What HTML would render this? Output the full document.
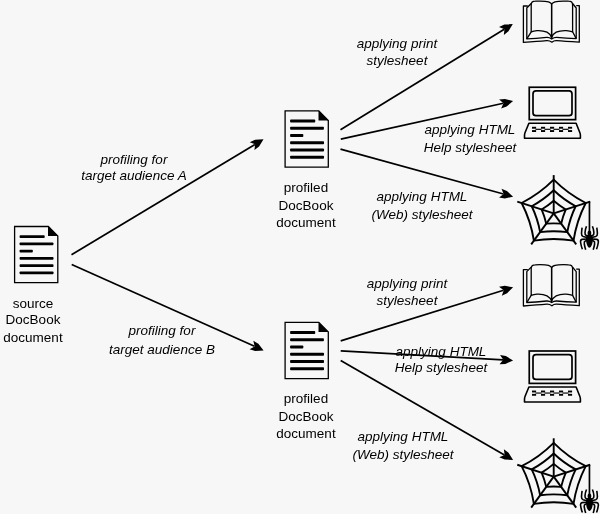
<!DOCTYPE html>
<html><head><meta charset="utf-8"><style>
html,body{margin:0;padding:0;}
body{width:600px;height:514px;background:#f7f7f7;position:relative;overflow:hidden;font-family:"Liberation Sans",sans-serif;}
svg{position:absolute;left:0;top:0;}
.t{position:absolute;width:200px;text-align:center;font-size:13.5px;line-height:17.3px;white-space:nowrap;color:#000;will-change:transform;}
</style></head><body>
<svg width="600" height="514" viewBox="0 0 600 514">
<g transform="translate(14,226)"><path d="M0.6,0.5 H34.3 L43.8,10.1 V56.7 H0.6 Z" fill="none" stroke="#000" stroke-width="1.3"/><path d="M34.0,0 V10.1 H44.1 Z" fill="#000"/><rect x="5.6" y="9.15" width="25.10" height="2.9" rx="0.8" fill="#000"/><rect x="5.6" y="16.40" width="33.80" height="2.9" rx="0.8" fill="#000"/><rect x="5.6" y="23.65" width="13.20" height="2.9" rx="0.8" fill="#000"/><rect x="5.6" y="30.90" width="33.90" height="2.9" rx="0.8" fill="#000"/><rect x="5.6" y="38.15" width="33.90" height="2.9" rx="0.8" fill="#000"/><rect x="5.6" y="45.40" width="33.90" height="2.9" rx="0.8" fill="#000"/></g><g transform="translate(284.5,110.4)"><path d="M0.6,0.5 H34.3 L43.8,10.1 V56.7 H0.6 Z" fill="none" stroke="#000" stroke-width="1.3"/><path d="M34.0,0 V10.1 H44.1 Z" fill="#000"/><rect x="5.6" y="9.15" width="25.10" height="2.9" rx="0.8" fill="#000"/><rect x="5.6" y="16.40" width="33.80" height="2.9" rx="0.8" fill="#000"/><rect x="5.6" y="23.65" width="13.20" height="2.9" rx="0.8" fill="#000"/><rect x="5.6" y="30.90" width="33.90" height="2.9" rx="0.8" fill="#000"/><rect x="5.6" y="38.15" width="33.90" height="2.9" rx="0.8" fill="#000"/><rect x="5.6" y="45.40" width="33.90" height="2.9" rx="0.8" fill="#000"/></g><g transform="translate(284.5,321.9)"><path d="M0.6,0.5 H34.3 L43.8,10.1 V56.7 H0.6 Z" fill="none" stroke="#000" stroke-width="1.3"/><path d="M34.0,0 V10.1 H44.1 Z" fill="#000"/><rect x="5.6" y="9.15" width="25.10" height="2.9" rx="0.8" fill="#000"/><rect x="5.6" y="16.40" width="33.80" height="2.9" rx="0.8" fill="#000"/><rect x="5.6" y="23.65" width="13.20" height="2.9" rx="0.8" fill="#000"/><rect x="5.6" y="30.90" width="33.90" height="2.9" rx="0.8" fill="#000"/><rect x="5.6" y="38.15" width="33.90" height="2.9" rx="0.8" fill="#000"/><rect x="5.6" y="45.40" width="33.90" height="2.9" rx="0.8" fill="#000"/></g><path d="M71.50,254.80 L254.93,144.45" stroke="#000" stroke-width="1.7"/><path d="M263.50,139.30 L259.08,146.51 L254.47,150.10 L255.10,144.35 L249.73,142.21 L255.06,139.82 Z" fill="#000"/><path d="M71.70,264.50 L254.47,346.31" stroke="#000" stroke-width="1.7"/><path d="M263.60,350.40 L255.16,350.90 L249.58,349.16 L254.66,346.40 L253.34,340.77 L258.35,343.78 Z" fill="#000"/><path d="M340.50,129.80 L504.28,29.23" stroke="#000" stroke-width="1.7"/><path d="M512.80,24.00 L508.45,31.25 L503.87,34.88 L504.45,29.13 L499.06,27.04 L504.37,24.60 Z" fill="#000"/><path d="M340.80,139.20 L503.34,103.26" stroke="#000" stroke-width="1.7"/><path d="M513.10,101.10 L506.62,106.53 L501.11,108.46 L503.53,103.22 L499.12,99.48 L504.93,98.91 Z" fill="#000"/><path d="M340.50,149.10 L503.46,194.04" stroke="#000" stroke-width="1.7"/><path d="M513.10,196.70 L504.83,198.47 L499.06,197.60 L503.65,194.09 L501.50,188.73 L506.91,190.95 Z" fill="#000"/><path d="M340.70,340.90 L503.55,290.27" stroke="#000" stroke-width="1.7"/><path d="M513.10,287.30 L507.10,293.25 L501.77,295.64 L503.74,290.21 L499.03,286.86 L504.78,285.80 Z" fill="#000"/><path d="M340.70,350.90 L503.12,359.85" stroke="#000" stroke-width="1.7"/><path d="M513.10,360.40 L505.40,363.88 L499.57,364.26 L503.31,359.86 L500.07,355.08 L505.83,356.09 Z" fill="#000"/><path d="M340.70,360.40 L504.44,454.90" stroke="#000" stroke-width="1.7"/><path d="M513.10,459.90 L504.65,459.53 L499.28,457.24 L504.61,455.00 L503.88,449.27 L508.55,452.77 Z" fill="#000"/><g transform="translate(0,0)" fill="none" stroke="#000" stroke-width="1.3" stroke-linejoin="round"><path d="M527.8,6 H523.4 V42.4 C532,41.8 540,41.2 546.7,40.6 Q549.5,40.4 551.9,42.2 Q554,40.4 556.6,40.6 C563,41.1 571,41.6 579.3,42.1 V5.6 H576.2"/><path d="M531.2,3.5 L526.8,8 V38.9 C535,38.6 541,38 546.7,37.4 Q549.5,37.3 551.7,39 Q554,37.3 556.6,37.4 C563,38 570,38.4 576.2,38.6 V8 L572.6,3.5"/><path d="M531.2,31.8 L526.8,38.9 M572.6,31.8 L576.2,38.6"/><path d="M531.2,31.8 V5 Q531.2,1.2 535.2,1.2 C540,1 546,1.1 548.5,1.8 Q551.6,2.8 551.6,4.5 V37.8 Q550.5,34 547,32.2 C544,30.8 540.8,30.4 537,30.6 C534.5,30.8 532.5,31.3 531.2,31.8 Z"/><path d="M572.6,31.8 V5 Q572.6,1.2 568.6,1.2 C563.6,1 557.6,1.1 555,1.8 Q551.8,2.8 551.6,4.5 V37.8 Q552.7,34 556.2,32.2 C559.2,30.8 562.3,30.4 566.3,30.6 C569,30.8 571.2,31.3 572.6,31.8 Z"/></g><g transform="translate(0,263.6)" fill="none" stroke="#000" stroke-width="1.3" stroke-linejoin="round"><path d="M527.8,6 H523.4 V42.4 C532,41.8 540,41.2 546.7,40.6 Q549.5,40.4 551.9,42.2 Q554,40.4 556.6,40.6 C563,41.1 571,41.6 579.3,42.1 V5.6 H576.2"/><path d="M531.2,3.5 L526.8,8 V38.9 C535,38.6 541,38 546.7,37.4 Q549.5,37.3 551.7,39 Q554,37.3 556.6,37.4 C563,38 570,38.4 576.2,38.6 V8 L572.6,3.5"/><path d="M531.2,31.8 L526.8,38.9 M572.6,31.8 L576.2,38.6"/><path d="M531.2,31.8 V5 Q531.2,1.2 535.2,1.2 C540,1 546,1.1 548.5,1.8 Q551.6,2.8 551.6,4.5 V37.8 Q550.5,34 547,32.2 C544,30.8 540.8,30.4 537,30.6 C534.5,30.8 532.5,31.3 531.2,31.8 Z"/><path d="M572.6,31.8 V5 Q572.6,1.2 568.6,1.2 C563.6,1 557.6,1.1 555,1.8 Q551.8,2.8 551.6,4.5 V37.8 Q552.7,34 556.2,32.2 C559.2,30.8 562.3,30.4 566.3,30.6 C569,30.8 571.2,31.3 572.6,31.8 Z"/></g><g transform="translate(0,0)" fill="none" stroke="#000"><rect x="529.25" y="87.25" width="46.35" height="32.4" stroke-width="1.7"/><rect x="533" y="90.9" width="39" height="24.8" rx="3" stroke-width="1.7"/><path d="M528.9,123.2 H576.1 L579.8,132.5 Q580.4,134 580.4,135.5 V138.2 H524.5 V135.5 Q524.5,134 525.1,132.5 Z" stroke-width="1.6" stroke-linejoin="round"/><rect x="532" y="126.8" width="4.1" height="1.9" fill="#000" stroke="none"/><rect x="532" y="130.1" width="4.1" height="1.9" fill="#000" stroke="none"/><path d="M535.5,129.3 H541.5" stroke-width="1.15"/><rect x="541" y="126.8" width="4.1" height="1.9" fill="#000" stroke="none"/><rect x="541" y="130.1" width="4.1" height="1.9" fill="#000" stroke="none"/><path d="M544.5,129.3 H550.5" stroke-width="1.15"/><rect x="550" y="126.8" width="4.1" height="1.9" fill="#000" stroke="none"/><rect x="550" y="130.1" width="4.1" height="1.9" fill="#000" stroke="none"/><path d="M553.5,129.3 H559.5" stroke-width="1.15"/><rect x="559" y="126.8" width="4.1" height="1.9" fill="#000" stroke="none"/><rect x="559" y="130.1" width="4.1" height="1.9" fill="#000" stroke="none"/><path d="M562.5,129.3 H568.5" stroke-width="1.15"/><rect x="568" y="126.8" width="4.1" height="1.9" fill="#000" stroke="none"/><rect x="568" y="130.1" width="4.1" height="1.9" fill="#000" stroke="none"/></g><g transform="translate(0,263.75)" fill="none" stroke="#000"><rect x="529.25" y="87.25" width="46.35" height="32.4" stroke-width="1.7"/><rect x="533" y="90.9" width="39" height="24.8" rx="3" stroke-width="1.7"/><path d="M528.9,123.2 H576.1 L579.8,132.5 Q580.4,134 580.4,135.5 V138.2 H524.5 V135.5 Q524.5,134 525.1,132.5 Z" stroke-width="1.6" stroke-linejoin="round"/><rect x="532" y="126.8" width="4.1" height="1.9" fill="#000" stroke="none"/><rect x="532" y="130.1" width="4.1" height="1.9" fill="#000" stroke="none"/><path d="M535.5,129.3 H541.5" stroke-width="1.15"/><rect x="541" y="126.8" width="4.1" height="1.9" fill="#000" stroke="none"/><rect x="541" y="130.1" width="4.1" height="1.9" fill="#000" stroke="none"/><path d="M544.5,129.3 H550.5" stroke-width="1.15"/><rect x="550" y="126.8" width="4.1" height="1.9" fill="#000" stroke="none"/><rect x="550" y="130.1" width="4.1" height="1.9" fill="#000" stroke="none"/><path d="M553.5,129.3 H559.5" stroke-width="1.15"/><rect x="559" y="126.8" width="4.1" height="1.9" fill="#000" stroke="none"/><rect x="559" y="130.1" width="4.1" height="1.9" fill="#000" stroke="none"/><path d="M562.5,129.3 H568.5" stroke-width="1.15"/><rect x="568" y="126.8" width="4.1" height="1.9" fill="#000" stroke="none"/><rect x="568" y="130.1" width="4.1" height="1.9" fill="#000" stroke="none"/></g><g transform="translate(0,0)" fill="none" stroke="#000" stroke-width="1.9" stroke-linecap="butt"><path d="M553.7,213.4 L553.70,175.10"/><path d="M553.7,213.4 L590.13,201.56"/><path d="M553.7,213.4 L576.21,244.39"/><path d="M553.7,213.4 L531.19,244.39"/><path d="M553.7,213.4 L517.27,201.56"/><path d="M553.70,200.70 Q559.39,205.57 565.78,209.48 Q562.90,216.39 561.16,223.67 Q553.70,223.07 546.24,223.67 Q544.50,216.39 541.62,209.48 Q548.01,205.57 553.70,200.70 Z"/><path d="M553.70,190.30 Q563.63,199.74 575.67,206.26 Q569.76,218.62 567.28,232.09 Q553.70,230.29 540.12,232.09 Q537.64,218.62 531.73,206.26 Q543.77,199.74 553.70,190.30 Z"/><path d="M553.70,179.70 Q567.84,193.93 585.75,202.99 Q576.59,220.84 573.51,240.66 Q553.70,237.46 533.89,240.66 Q530.81,220.84 521.65,202.99 Q539.56,193.93 553.70,179.70 Z"/><path d="M589.45,201.4 V232" stroke-width="1.7"/><path d="M589.45,230.4 C591.4,230.4 591.7,233.4 590.9,234.5 C593.1,235.4 592.9,238 592.8,240.5 C592.6,244.5 590.9,247.7 589.45,247.7 C588,247.7 586.3,244.5 586.1,240.5 C586,238 585.8,235.4 588,234.5 C587.2,233.4 587.5,230.4 589.45,230.4 Z" fill="#000" stroke="none"/><path d="M587,237.6 L583.2,236.6 Q581.4,236 581.5,233.5 Q581.7,230 582.1,227.6" stroke-width="1.6" stroke-linejoin="round"/><path d="M587,237.6 L583.2,236.6 Q581.4,236 581.5,233.5 Q581.7,230 582.1,227.6" stroke-width="1.6" stroke-linejoin="round" transform="translate(1178.9,0) scale(-1,1)"/><path d="M588,236 L586,235.2 Q584.9,234.6 585,232.5 Q585.3,229 586.5,226.3" stroke-width="1.6" stroke-linejoin="round"/><path d="M588,236 L586,235.2 Q584.9,234.6 585,232.5 Q585.3,229 586.5,226.3" stroke-width="1.6" stroke-linejoin="round" transform="translate(1178.9,0) scale(-1,1)"/><path d="M587,239 L582,239.4 Q580.2,239.7 580.6,242.5 Q581.2,246.5 582.4,249.3" stroke-width="1.6" stroke-linejoin="round"/><path d="M587,239 L582,239.4 Q580.2,239.7 580.6,242.5 Q581.2,246.5 582.4,249.3" stroke-width="1.6" stroke-linejoin="round" transform="translate(1178.9,0) scale(-1,1)"/><path d="M587.4,240.2 L585.3,241 Q583.9,241.5 584.3,244 Q584.8,247.3 585.7,249.8" stroke-width="1.6" stroke-linejoin="round"/><path d="M587.4,240.2 L585.3,241 Q583.9,241.5 584.3,244 Q584.8,247.3 585.7,249.8" stroke-width="1.6" stroke-linejoin="round" transform="translate(1178.9,0) scale(-1,1)"/></g><g transform="translate(0,263.2)" fill="none" stroke="#000" stroke-width="1.9" stroke-linecap="butt"><path d="M553.7,213.4 L553.70,175.10"/><path d="M553.7,213.4 L590.13,201.56"/><path d="M553.7,213.4 L576.21,244.39"/><path d="M553.7,213.4 L531.19,244.39"/><path d="M553.7,213.4 L517.27,201.56"/><path d="M553.70,200.70 Q559.39,205.57 565.78,209.48 Q562.90,216.39 561.16,223.67 Q553.70,223.07 546.24,223.67 Q544.50,216.39 541.62,209.48 Q548.01,205.57 553.70,200.70 Z"/><path d="M553.70,190.30 Q563.63,199.74 575.67,206.26 Q569.76,218.62 567.28,232.09 Q553.70,230.29 540.12,232.09 Q537.64,218.62 531.73,206.26 Q543.77,199.74 553.70,190.30 Z"/><path d="M553.70,179.70 Q567.84,193.93 585.75,202.99 Q576.59,220.84 573.51,240.66 Q553.70,237.46 533.89,240.66 Q530.81,220.84 521.65,202.99 Q539.56,193.93 553.70,179.70 Z"/><path d="M589.45,201.4 V232" stroke-width="1.7"/><path d="M589.45,230.4 C591.4,230.4 591.7,233.4 590.9,234.5 C593.1,235.4 592.9,238 592.8,240.5 C592.6,244.5 590.9,247.7 589.45,247.7 C588,247.7 586.3,244.5 586.1,240.5 C586,238 585.8,235.4 588,234.5 C587.2,233.4 587.5,230.4 589.45,230.4 Z" fill="#000" stroke="none"/><path d="M587,237.6 L583.2,236.6 Q581.4,236 581.5,233.5 Q581.7,230 582.1,227.6" stroke-width="1.6" stroke-linejoin="round"/><path d="M587,237.6 L583.2,236.6 Q581.4,236 581.5,233.5 Q581.7,230 582.1,227.6" stroke-width="1.6" stroke-linejoin="round" transform="translate(1178.9,0) scale(-1,1)"/><path d="M588,236 L586,235.2 Q584.9,234.6 585,232.5 Q585.3,229 586.5,226.3" stroke-width="1.6" stroke-linejoin="round"/><path d="M588,236 L586,235.2 Q584.9,234.6 585,232.5 Q585.3,229 586.5,226.3" stroke-width="1.6" stroke-linejoin="round" transform="translate(1178.9,0) scale(-1,1)"/><path d="M587,239 L582,239.4 Q580.2,239.7 580.6,242.5 Q581.2,246.5 582.4,249.3" stroke-width="1.6" stroke-linejoin="round"/><path d="M587,239 L582,239.4 Q580.2,239.7 580.6,242.5 Q581.2,246.5 582.4,249.3" stroke-width="1.6" stroke-linejoin="round" transform="translate(1178.9,0) scale(-1,1)"/><path d="M587.4,240.2 L585.3,241 Q583.9,241.5 584.3,244 Q584.8,247.3 585.7,249.8" stroke-width="1.6" stroke-linejoin="round"/><path d="M587.4,240.2 L585.3,241 Q583.9,241.5 584.3,244 Q584.8,247.3 585.7,249.8" stroke-width="1.6" stroke-linejoin="round" transform="translate(1178.9,0) scale(-1,1)"/></g>
</svg>
<div class="t" style="left:-67.1px;top:294.77px;">source</div>
<div class="t" style="left:-67.1px;top:311.37px;">DocBook</div>
<div class="t" style="left:-67.1px;top:329.37px;">document</div>
<div class="t" style="left:206.2px;top:178.67px;">profiled</div>
<div class="t" style="left:206.2px;top:196.67px;">DocBook</div>
<div class="t" style="left:206.2px;top:214.17px;">document</div>
<div class="t" style="left:206.2px;top:389.67px;">profiled</div>
<div class="t" style="left:206.2px;top:407.67px;">DocBook</div>
<div class="t" style="left:206.2px;top:425.27px;">document</div>
<div class="t" style="left:34px;top:150.67px;font-style:italic;">profiling for</div>
<div class="t" style="left:34px;top:167.37px;font-style:italic;">target audience A</div>
<div class="t" style="left:62px;top:322.27px;font-style:italic;">profiling for</div>
<div class="t" style="left:62px;top:340.57px;font-style:italic;">target audience B</div>
<div class="t" style="left:297px;top:34.57px;font-style:italic;">applying print</div>
<div class="t" style="left:297px;top:51.87px;font-style:italic;">stylesheet</div>
<div class="t" style="left:307px;top:274.57px;font-style:italic;">applying print</div>
<div class="t" style="left:307px;top:291.87px;font-style:italic;">stylesheet</div>
<div class="t" style="left:369.5px;top:121.47px;font-style:italic;">applying HTML</div>
<div class="t" style="left:369.5px;top:138.97px;font-style:italic;">Help stylesheet</div>
<div class="t" style="left:341.3px;top:342.67px;font-style:italic;">applying HTML</div>
<div class="t" style="left:341.3px;top:359.37px;font-style:italic;">Help stylesheet</div>
<div class="t" style="left:322.2px;top:188.37px;font-style:italic;">applying HTML</div>
<div class="t" style="left:322.2px;top:205.87px;font-style:italic;">(Web) stylesheet</div>
<div class="t" style="left:303.2px;top:428.37px;font-style:italic;">applying HTML</div>
<div class="t" style="left:303.2px;top:445.87px;font-style:italic;">(Web) stylesheet</div>

</body></html>
